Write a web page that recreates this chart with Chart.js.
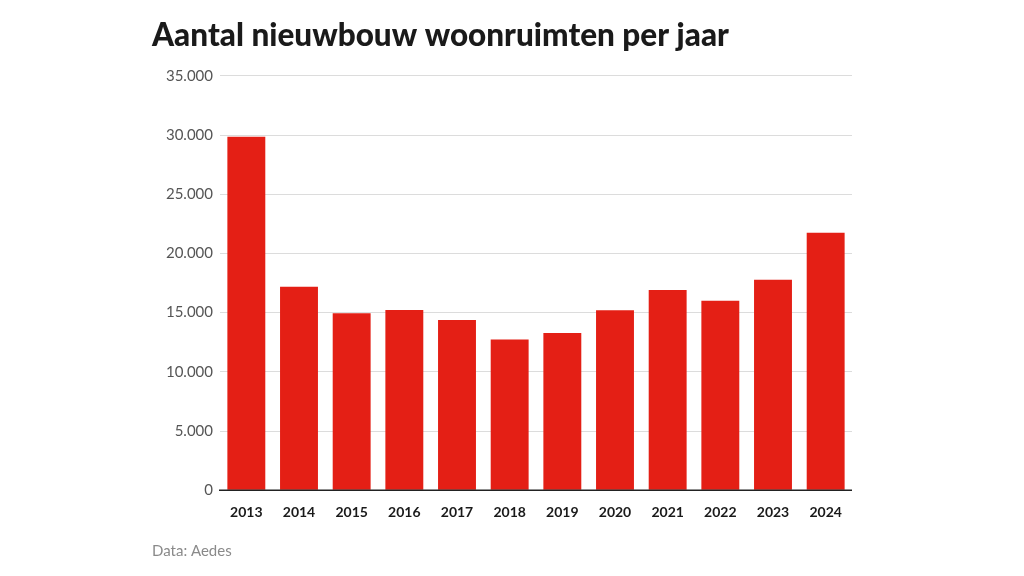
<!DOCTYPE html>
<html>
<head>
<meta charset="utf-8">
<script src="https://cdn.jsdelivr.net/npm/chart.js@4"></script>
<style>
  html, body { margin: 0; padding: 0; background: #fff; }
  #wrap { width: 1024px; height: 576px; position: relative; }
</style>
</head>
<body>
<div id="wrap"><canvas id="chart"></canvas></div>
<script>
const years = ["2013", "2014", "2015", "2016", "2017", "2018", "2019", "2020", "2021", "2022", "2023", "2024"];
const newBuild = [29850, 17190, 14940, 15220, 14380, 12720, 13280, 15200, 16910, 16010, 17780, 21750];
const yTicks = [0, 5000, 10000, 15000, 20000, 25000, 30000, 35000];

function dots(v) {
    return String(v).replace(/\B(?=(\d{3})+(?!\d))/g, ".");
}

// dark base line at zero
const baseLine = {
    id: "baseLine",
    afterDatasetsDraw(chart) {
        const { ctx, chartArea } = chart;
        const y = chart.scales.y.getPixelForValue(0);
        ctx.save();
        ctx.strokeStyle = "#222";
        ctx.lineWidth = 1.5;
        ctx.beginPath();
        ctx.moveTo(chartArea.left - 1, y);
        ctx.lineTo(chartArea.right, y);
        ctx.stroke();
        ctx.restore();
    }
};

new Chart(document.getElementById("chart").getContext("2d"), {
    type: "bar",
    data: {
        labels: years,
        datasets: [{
            label: "Nieuwbouw",
            data: newBuild,
            backgroundColor: "#e41f15",
            borderWidth: 0,
            categoryPercentage: 0.72,
            barPercentage: 1.0
        }]
    },
    options: {
        responsive: true,
        maintainAspectRatio: false,
        animation: false,
        layout: { padding: { left: 152, right: 172, top: 17, bottom: 16 } },
        plugins: {
            legend: { display: false },
            tooltip: { enabled: false },
            title: {
                display: true,
                text: "Aantal nieuwbouw woonruimten per jaar",
                align: "start",
                color: "#1a1a1a",
                font: { family: "Lato", size: 31.5, weight: "900" },
                padding: { top: 0, bottom: 21 }
            },
            subtitle: {
                display: true,
                position: "bottom",
                text: "Data: Aedes",
                align: "start",
                color: "#8a8a8a",
                font: { family: "Lato", size: 15, weight: "normal" },
                padding: { top: 7, bottom: 0 }
            }
        },
        scales: {
            x: {
                grid: { display: false, drawTicks: false },
                border: { display: false },
                ticks: {
                    color: "#1a1a1a",
                    font: { family: "Lato", size: 14, weight: "bold" },
                    padding: 14,
                    maxRotation: 0
                }
            },
            y: {
                min: 0,
                max: 35000,
                afterBuildTicks(scale) {
                    scale.ticks = yTicks.map(v => ({ value: v }));
                },
                afterFit(scale) { scale.width = 68; },
                grid: { color: "#dcdcdc", lineWidth: 1, drawTicks: false },
                border: { display: false },
                ticks: {
                    color: "#555",
                    font: { family: "Lato", size: 15 },
                    padding: 7,
                    callback: v => dots(v)
                }
            }
        }
    },
    plugins: [baseLine]
});
</script>
</body>
</html>
